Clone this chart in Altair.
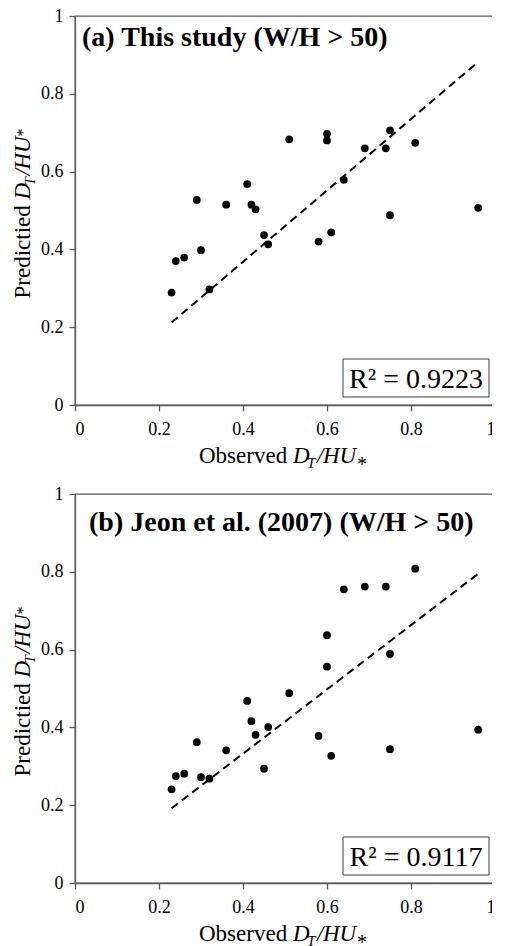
import altair as alt
import pandas as pd

# ---- data ----
observed = [0.23, 0.24, 0.26, 0.29, 0.30, 0.32, 0.36, 0.41, 0.42, 0.43, 0.45, 0.46,
            0.51, 0.58, 0.60, 0.60, 0.61, 0.64, 0.69, 0.74, 0.75, 0.75, 0.81, 0.96]
pred_a = [0.289, 0.370, 0.379, 0.527, 0.398, 0.297, 0.515, 0.568, 0.515, 0.503, 0.437, 0.413,
          0.683, 0.420, 0.697, 0.680, 0.444, 0.579, 0.660, 0.660, 0.706, 0.488, 0.674, 0.507]
pred_b = [0.241, 0.275, 0.281, 0.362, 0.272, 0.268, 0.341, 0.468, 0.416, 0.381, 0.294, 0.401,
          0.488, 0.378, 0.637, 0.556, 0.327, 0.755, 0.762, 0.762, 0.589, 0.344, 0.808, 0.394]
fit_x = [0.23, 0.96]
fit_a = [0.212, 0.882]
fit_b = [0.192, 0.795]
panel_titles = ["(a) This study (W/H > 50)", "(b) Jeon et al. (2007) (W/H > 50)"]
r2_labels = ["R² = 0.9223", "R² = 0.9117"]
tick_values = [0, 0.2, 0.4, 0.6, 0.8, 1]

W, H = 420, 389
FONT = "Liberation Serif"
GREY = "#595959"


def txt(text, x, y, size, style="normal", weight="normal", angle=0, align="left"):
    kw = dict(font=FONT, fontSize=size, fontStyle=style, fontWeight=weight,
              align=align, baseline="alphabetic", color="black")
    if angle:
        kw["angle"] = angle
    return alt.Chart(pd.DataFrame({"t": [text]})).mark_text(**kw).encode(
        text="t:N", x=alt.value(x), y=alt.value(y))


def axis(pad):
    return alt.Axis(values=tick_values, format="~g", title=None, grid=False,
                    labelFont=FONT, labelFontSize=18, labelColor="black", labelPadding=pad,
                    domainColor=GREY, domainWidth=1.3, tickColor=GREY, tickWidth=1.3, tickSize=6)


def panel(pred, fit, title, r2, title_x, title_y):
    df = pd.DataFrame({"obs": observed, "pred": pred})
    fdf = pd.DataFrame({"obs": fit_x, "pred": fit})
    xenc = alt.X("obs:Q", scale=alt.Scale(domain=[0, 1], nice=False), axis=axis(9))
    yenc = alt.Y("pred:Q", scale=alt.Scale(domain=[0, 1], nice=False), axis=axis(6))
    line = alt.Chart(fdf).mark_line(color="black", strokeDash=[8, 5], strokeWidth=2).encode(x=xenc, y=yenc)
    pts = alt.Chart(df).mark_circle(size=60, color="black", opacity=1).encode(x=xenc, y=yenc)
    ttl = txt(title, title_x, title_y, 28, weight="bold")
    box = alt.Chart(pd.DataFrame({"b": [1]})).mark_rect(fill="white", stroke="#404040", strokeWidth=1).encode(
        x=alt.value(W - 152), x2=alt.value(W - 6), y=alt.value(H - 46), y2=alt.value(H - 8))
    r2t = txt(r2, W - 79, H - 17, 28, align="center")

    # x axis title: Observed D_T/HU*
    x0, yb = W / 2 - 86, H + 58
    xt = [
        txt("Observed", x0, yb, 23),
        txt("D", x0 + 94, yb, 23, style="italic"),
        txt("T", x0 + 108, yb + 5, 15, style="italic"),
        txt("/", x0 + 118, yb, 23, style="italic"),
        txt("HU", x0 + 124, yb, 23, style="italic"),
        txt("*", x0 + 158, yb + 8, 20),
    ]
    # y axis title: Predictied D_T/HU*
    xb, y0 = -45, H / 2 + 88
    yt = [
        txt("Predictied", xb, y0, 23, angle=270),
        txt("D", xb, y0 - 99, 23, style="italic", angle=270),
        txt("T", xb + 5, y0 - 113, 15, style="italic", angle=270),
        txt("/", xb, y0 - 123, 23, style="italic", angle=270),
        txt("HU", xb, y0 - 129, 23, style="italic", angle=270),
        txt("*", xb - 2, y0 - 162, 16, angle=270),
    ]
    return alt.layer(line, pts, ttl, box, r2t, *xt, *yt).properties(width=W, height=H)


pa = panel(pred_a, fit_a, panel_titles[0], r2_labels[0], 7, 30)
pb = panel(pred_b, fit_b, panel_titles[1], r2_labels[1], 14, 37)

chart = alt.vconcat(pa, pb, spacing=8).properties(
    padding={"left": 3, "top": -2, "right": -5, "bottom": 0}
).configure_view(
    stroke=GREY, strokeWidth=1.3
)

chart.save("out.html", embed_options={"renderer": "svg", "actions": False})
